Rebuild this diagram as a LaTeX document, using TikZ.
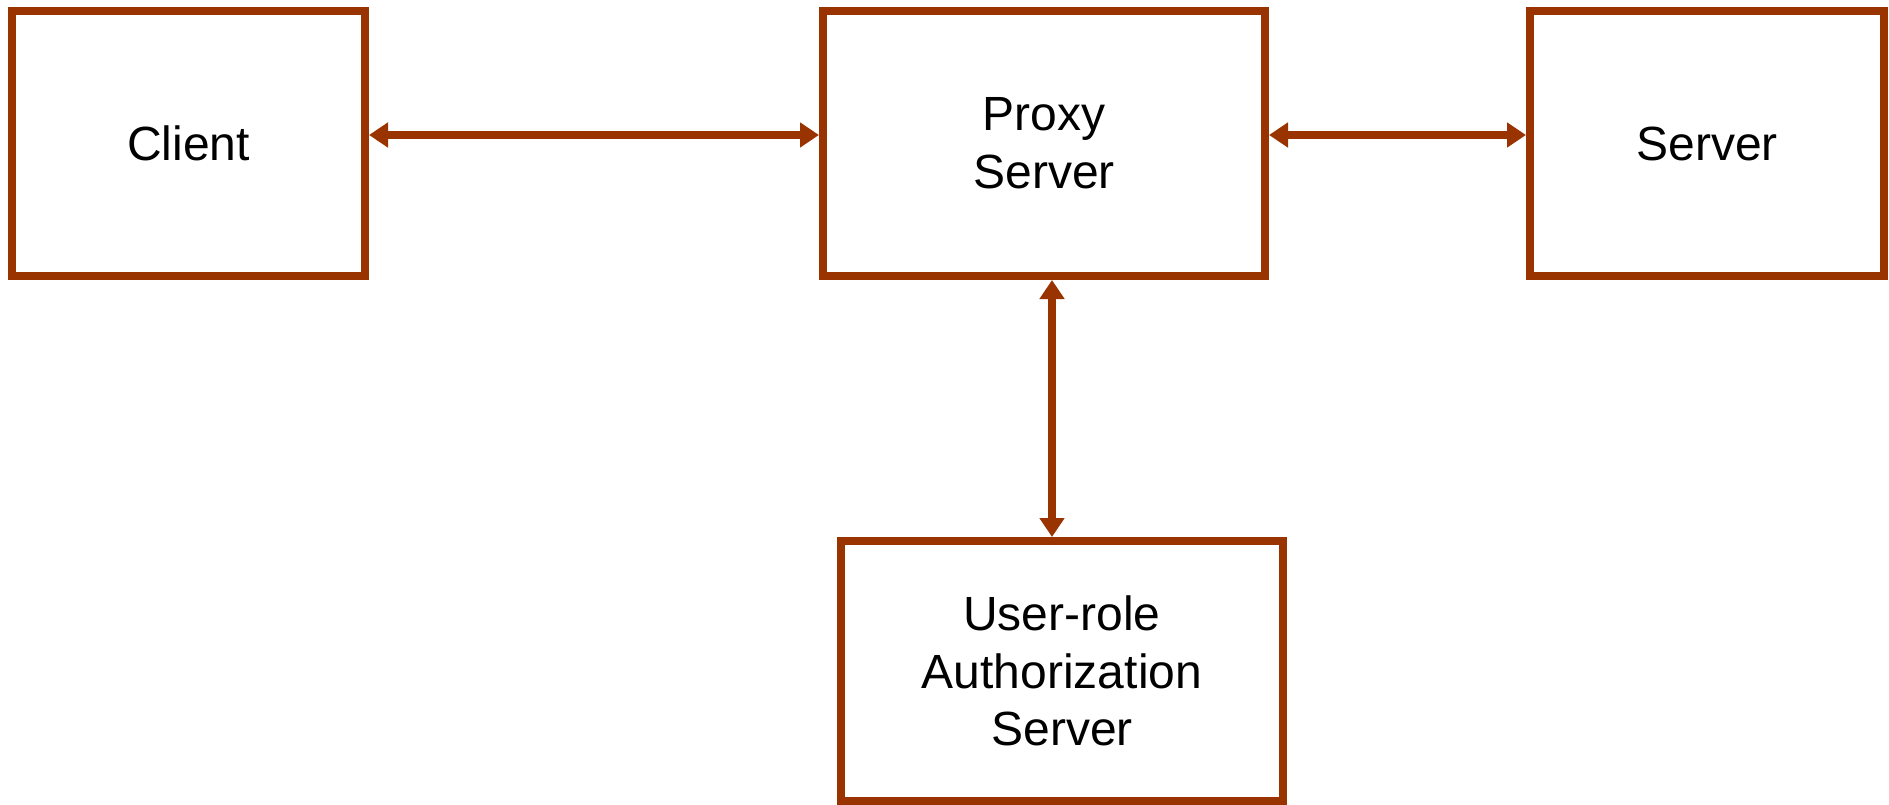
\documentclass[tikz,border=0pt]{standalone}
\usepackage{fontspec}
\setmainfont{Liberation Sans}
\usetikzlibrary{arrows.meta}
\definecolor{rust}{RGB}{153,51,0}
\begin{document}
\begin{tikzpicture}[x=1pt,y=-1pt,
  box/.style={draw=rust,line width=8pt,rectangle,fill=white,align=center,
    font=\fontsize{48}{57.6}\selectfont,inner sep=0pt},
  link/.style={draw=rust,line width=8pt,{Triangle[length=19pt,width=24pt]}-{Triangle[length=19pt,width=24pt]}}]
\useasboundingbox (0,0) rectangle (1889,805);
\node[box,minimum width=353pt,minimum height=265pt] (client) at (188.5,143.5) {Client};
\node[box,minimum width=442pt,minimum height=265pt] (proxy) at (1044,143.5) {Proxy\\Server};
\node[box,minimum width=354pt,minimum height=265pt] (server) at (1707,143.5) {Server};
\node[box,minimum width=442pt,minimum height=260pt] (auth) at (1062,671) {User-role\\Authorization\\Server};
\draw[link] ([yshift=8.5pt]client.east) -- ([yshift=8.5pt]proxy.west);
\draw[link] ([yshift=8.5pt]proxy.east) -- ([yshift=8.5pt]server.west);
\coordinate (vt) at ([xshift=8pt]proxy.south);
\draw[link] (vt) -- (vt |- auth.north);
\end{tikzpicture}
\end{document}
